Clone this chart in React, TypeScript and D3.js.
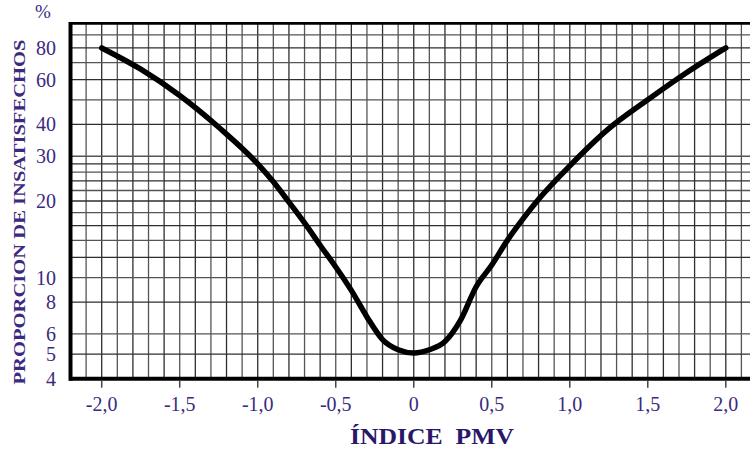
import React from "react";
import * as d3 from "d3";

const pmv = [-2.0, -1.75, -1.5, -1.25, -1.0, -0.9, -0.8, -0.7, -0.6, -0.5, -0.4, -0.3, -0.2, -0.1, 0.0, 0.1, 0.2, 0.3, 0.4, 0.5, 0.6, 0.7, 0.8, 1.0, 1.25, 1.5, 1.75, 2.0];
const ppd = [80, 66, 52, 39, 28, 23.8, 19.8, 16.4, 13.4, 11.0, 8.9, 7.0, 5.7, 5.2, 5.05, 5.2, 5.6, 6.8, 9.2, 11.2, 14.0, 17.0, 20.3, 27.5, 38.5, 50, 64, 80];

const xTicks = [-2.0, -1.5, -1.0, -0.5, 0, 0.5, 1.0, 1.5, 2.0];
const xTickLabels = ["-2,0", "-1,5", "-1,0", "-0,5", "0", "0,5", "1,0", "1,5", "2,0"];
const yTicks = [4, 5, 6, 8, 10, 20, 30, 40, 60, 80];
const yGrid = [5, 6, 8, 10, 12, 14, 16, 18, 20, 22, 24, 26, 28, 30, 40, 50, 60, 70, 80, 90];
const xGrid = d3.range(-22, 23).map((i) => i / 10);

const W = 750;
const H = 450;
const textColor = "#3b2a80";
const titleColor = "#2a176a";
const font = "'Liberation Serif', 'Times New Roman', serif";

export default function App() {
  const x = d3.scaleLinear().domain([-2.2, 2.2]).range([70.5, 757]);
  const y = d3.scaleLog().domain([4, 100]).range([378.7, 23.3]);
  const line = d3
    .line<number>()
    .x((_, i) => x(pmv[i]))
    .y((d) => y(d))
    .curve(d3.curveMonotoneX);

  return (
    <svg
      width={W}
      height={H}
      style={{ position: "absolute", left: 0, top: 0, display: "block", background: "#fff" }}
    >
      <rect x={0} y={0} width={W} height={H} fill="#fff" />
      {xGrid.map((v, i) => (
        <line
          key={"vx" + i}
          x1={x(v)}
          x2={x(v)}
          y1={y(100)}
          y2={y(4)}
          stroke={i % 2 === 0 ? "#2e2e2e" : "#555"}
          strokeWidth={1.3}
        />
      ))}
      {yGrid.map((v, i) => (
        <line
          key={"hy" + i}
          x1={x(-2.2)}
          x2={W}
          y1={y(v)}
          y2={y(v)}
          stroke={i % 2 === 0 ? "#2e2e2e" : "#555"}
          strokeWidth={1.3}
        />
      ))}
      <line x1={x(-2.2)} x2={W} y1={y(100)} y2={y(100)} stroke="#000" strokeWidth={2.8} />
      <line x1={x(-2.2) - 1} x2={W} y1={y(4)} y2={y(4)} stroke="#000" strokeWidth={4} />
      <line x1={x(-2.2)} x2={x(-2.2)} y1={y(100) - 1.4} y2={y(4) + 2} stroke="#000" strokeWidth={4} />
      {xTicks.map((v, i) => (
        <g key={"xt" + i}>
          <line x1={x(v)} x2={x(v)} y1={y(4) + 2} y2={y(4) + 9} stroke="#444" strokeWidth={1.5} />
          <text
            x={x(v)}
            y={411}
            textAnchor="middle"
            fontFamily={font}
            fontSize={20}
            fill={textColor}
          >
            {xTickLabels[i]}
          </text>
        </g>
      ))}
      {yTicks.map((v, i) => (
        <text
          key={"yt" + i}
          x={56}
          y={y(v)}
          dy="0.35em"
          textAnchor="end"
          fontFamily={font}
          fontSize={20}
          fill={textColor}
        >
          {v}
        </text>
      ))}
      <text x={43} y={18} textAnchor="middle" fontFamily={font} fontSize={19} fill={textColor}>
        %
      </text>
      <path
        d={line(ppd) || ""}
        fill="none"
        stroke="#000"
        strokeWidth={5.5}
        strokeLinecap="round"
        strokeLinejoin="round"
      />
      <text
        x={432}
        y={444}
        textAnchor="middle"
        fontFamily={font}
        fontWeight="bold"
        fontSize={24}
        fill={titleColor}
        textLength={164}
        lengthAdjust="spacingAndGlyphs"
      >
        {"ÍNDICE\u00A0\u00A0PMV"}
      </text>
      <text
        transform={`translate(25, 212) rotate(-90)`}
        textAnchor="middle"
        fontFamily={font}
        fontWeight="bold"
        fontSize={16}
        fill={textColor}
        textLength={345}
        lengthAdjust="spacingAndGlyphs"
      >
        PROPORCION DE INSATISFECHOS
      </text>
    </svg>
  );
}
